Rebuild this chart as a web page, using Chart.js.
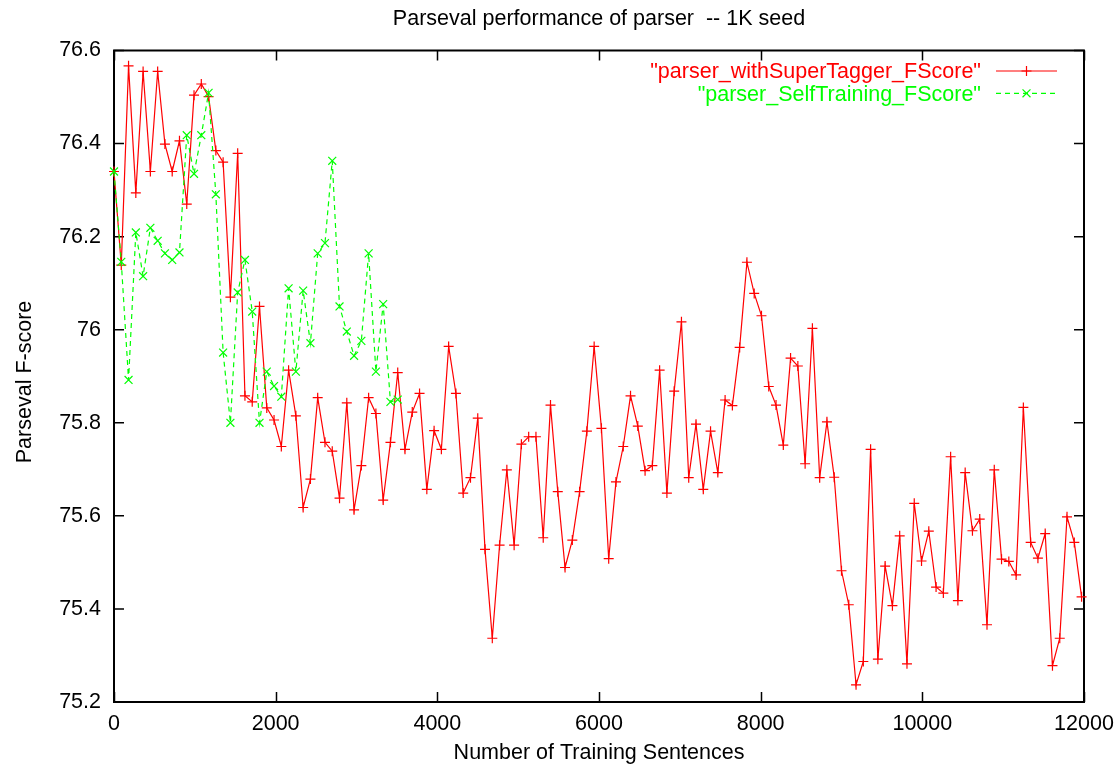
<!DOCTYPE html>
<html>
<head>
<meta charset="utf-8">
<title>Parseval performance of parser -- 1K seed</title>
<script src="https://cdn.jsdelivr.net/npm/chart.js@4.4.1/dist/chart.umd.min.js"></script>
<style>
  html, body { margin: 0; padding: 0; background: #fff; }
  canvas { display: block; }
</style>
</head>
<body>
<canvas id="chart" width="1117" height="769"></canvas>
<script>
// Number of training sentences at each evaluation step
const sentences = [
  0, 90, 180, 270, 360, 450, 540, 630, 720, 810,
  900, 990, 1080, 1170, 1260, 1350, 1440, 1530, 1620, 1710,
  1800, 1890, 1980, 2070, 2160, 2250, 2340, 2430, 2520, 2610,
  2700, 2790, 2880, 2970, 3060, 3150, 3240, 3330, 3420, 3510,
  3600, 3690, 3780, 3870, 3960, 4050, 4140, 4230, 4320, 4410,
  4500, 4590, 4680, 4770, 4860, 4950, 5040, 5130, 5220, 5310,
  5400, 5490, 5580, 5670, 5760, 5850, 5940, 6030, 6120, 6210,
  6300, 6390, 6480, 6570, 6660, 6750, 6840, 6930, 7020, 7110,
  7200, 7290, 7380, 7470, 7560, 7650, 7740, 7830, 7920, 8010,
  8100, 8190, 8280, 8370, 8460, 8550, 8640, 8730, 8820, 8910,
  9000, 9090, 9180, 9270, 9360, 9450, 9540, 9630, 9720, 9810,
  9900, 9990, 10080, 10170, 10260, 10350, 10440, 10530, 10620, 10710,
  10800, 10890, 10980, 11070, 11160, 11250, 11340, 11430, 11520, 11610,
  11700, 11790, 11880, 11970
];

// Parser trained with the SuperTagger
const superTaggerF = [
  76.340, 76.139, 76.567, 76.294, 76.555, 76.340, 76.555, 76.399, 76.340, 76.406,
  76.270, 76.504, 76.528, 76.501, 76.385, 76.360, 76.070, 76.379, 75.858, 75.845,
  76.050, 75.832, 75.806, 75.749, 75.913, 75.815, 75.618, 75.679, 75.854, 75.758,
  75.739, 75.638, 75.843, 75.613, 75.708, 75.854, 75.820, 75.634, 75.758, 75.908,
  75.743, 75.823, 75.863, 75.657, 75.783, 75.743, 75.964, 75.863, 75.649, 75.682,
  75.810, 75.528, 75.337, 75.537, 75.699, 75.537, 75.754, 75.770, 75.770, 75.553,
  75.838, 75.652, 75.489, 75.548, 75.652, 75.782, 75.964, 75.788, 75.508, 75.673,
  75.749, 75.858, 75.793, 75.697, 75.708, 75.913, 75.649, 75.868, 76.017, 75.682,
  75.797, 75.657, 75.782, 75.693, 75.849, 75.837, 75.962, 76.145, 76.078, 76.030,
  75.878, 75.838, 75.752, 75.939, 75.922, 75.712, 76.003, 75.682, 75.802, 75.683,
  75.482, 75.409, 75.237, 75.287, 75.743, 75.292, 75.492, 75.407, 75.557, 75.282,
  75.627, 75.503, 75.567, 75.447, 75.434, 75.727, 75.418, 75.693, 75.568, 75.593,
  75.366, 75.699, 75.507, 75.502, 75.473, 75.833, 75.543, 75.509, 75.562, 75.278,
  75.337, 75.598, 75.543, 75.426
];

// Self-training parser (first 40 steps only)
const selfTrainingF = [
  76.340, 76.146, 75.892, 76.209, 76.115, 76.219, 76.191, 76.164, 76.150, 76.166,
  76.418, 76.335, 76.418, 76.509, 76.291, 75.951, 75.800, 76.080, 76.150, 76.039,
  75.800, 75.910, 75.879, 75.856, 76.089, 75.910, 76.084, 75.971, 76.164, 76.186,
  76.363, 76.050, 75.996, 75.944, 75.976, 76.164, 75.910, 76.055, 75.845, 75.850
];

const seriesNames = ['"parser_withSuperTagger_FScore"', '"parser_SelfTraining_FScore"'];
const xTicks = [0, 2000, 4000, 6000, 8000, 10000, 12000];
const yTicks = [75.2, 75.4, 75.6, 75.8, 76.0, 76.2, 76.4, 76.6];

const FONT_FAMILY = '"Liberation Sans", Arial, Helvetica, sans-serif';
const FONT_SIZE = 21.5;
const RED = '#ff0000';
const GREEN = '#00ff00';

const toPoints = (values) => values.map((v, i) => ({ x: sentences[i], y: v }));

// Box border with inward ticks on all four sides
const framePlugin = {
  id: 'frame',
  beforeDatasetsDraw(chart) {
    const { ctx, chartArea: a, scales: { x, y } } = chart;
    const L = 10;
    ctx.save();
    ctx.strokeStyle = '#000';
    ctx.lineWidth = 1.5;
    ctx.beginPath();
    x.ticks.forEach(t => {
      const px = Math.round(x.getPixelForValue(t.value)) + 0.5;
      ctx.moveTo(px, a.bottom); ctx.lineTo(px, a.bottom - L);
      ctx.moveTo(px, a.top); ctx.lineTo(px, a.top + L);
    });
    y.ticks.forEach(t => {
      const py = y.getPixelForValue(t.value);
      ctx.moveTo(a.left, py); ctx.lineTo(a.left + L, py);
      ctx.moveTo(a.right, py); ctx.lineTo(a.right - L, py);
    });
    ctx.stroke();
    ctx.lineWidth = 2;
    ctx.strokeRect(a.left, a.top, a.right - a.left, a.bottom - a.top);
    ctx.restore();
  }
};

// Title, axis titles and the key in the upper right corner
const textPlugin = {
  id: 'texts',
  afterDraw(chart) {
    const { ctx, chartArea: a } = chart;
    ctx.save();
    ctx.font = FONT_SIZE + 'px ' + FONT_FAMILY;
    ctx.fillStyle = '#000';
    ctx.textBaseline = 'alphabetic';
    ctx.textAlign = 'center';
    const cx = (a.left + a.right) / 2;
    ctx.fillText('Parseval performance of parser  -- 1K seed', cx, 25);
    ctx.fillText('Number of Training Sentences', cx, 759);

    ctx.save();
    ctx.translate(31, 382);
    ctx.rotate(-Math.PI / 2);
    ctx.fillText('Parseval F-score', 0, 0);
    ctx.restore();

    // key
    const rows = [71, 93.3];
    const textRight = 981, sx0 = 996, sx1 = 1057, mx = (sx0 + sx1) / 2;
    chart.data.datasets.forEach((ds, i) => {
      const ry = rows[i];
      ctx.textAlign = 'right';
      ctx.fillStyle = ds.borderColor;
      ctx.fillText(ds.label, textRight, ry + 7.3);
      ctx.strokeStyle = ds.borderColor;
      ctx.lineWidth = ds.borderWidth;
      ctx.setLineDash(ds.borderDash || []);
      ctx.beginPath();
      ctx.moveTo(sx0, ry); ctx.lineTo(sx1, ry);
      ctx.stroke();
      ctx.setLineDash([]);
      ctx.lineWidth = ds.pointBorderWidth;
      ctx.beginPath();
      const r = ds.pointRadius;
      if (ds.pointStyle === 'cross') {
        ctx.moveTo(mx - r, ry); ctx.lineTo(mx + r, ry);
        ctx.moveTo(mx, ry - r); ctx.lineTo(mx, ry + r);
      } else {
        const d = r * Math.SQRT1_2;
        ctx.moveTo(mx - d, ry - d); ctx.lineTo(mx + d, ry + d);
        ctx.moveTo(mx - d, ry + d); ctx.lineTo(mx + d, ry - d);
      }
      ctx.stroke();
    });
    ctx.restore();
  }
};

const tickFont = { family: FONT_FAMILY, size: FONT_SIZE };

new Chart(document.getElementById('chart'), {
  type: 'line',
  data: {
    datasets: [
      {
        label: seriesNames[0],
        data: toPoints(superTaggerF),
        borderColor: RED,
        backgroundColor: RED,
        borderWidth: 1.2,
        pointStyle: 'cross',
        pointRadius: 5,
        pointBorderWidth: 1.2,
        pointBorderColor: RED,
        fill: false,
        tension: 0,
        clip: false,
        order: 1
      },
      {
        label: seriesNames[1],
        data: toPoints(selfTrainingF),
        borderColor: GREEN,
        backgroundColor: GREEN,
        borderWidth: 1.2,
        borderDash: [5, 4],
        pointStyle: 'crossRot',
        pointRadius: 5.6,
        pointBorderWidth: 1.2,
        pointBorderColor: GREEN,
        fill: false,
        tension: 0,
        clip: false,
        order: 0
      }
    ]
  },
  options: {
    responsive: false,
    animation: false,
    devicePixelRatio: 1,
    layout: { padding: { top: 50.5, right: 33, left: 0, bottom: 0 } },
    plugins: {
      legend: { display: false },
      title: { display: false },
      tooltip: { enabled: false }
    },
    scales: {
      x: {
        type: 'linear',
        min: 0,
        max: 12000,
        afterBuildTicks: s => { s.ticks = xTicks.map(v => ({ value: v })); },
        afterFit: s => { s.height = 67; s.paddingLeft = 0; s.paddingRight = 0; },
        grid: { display: false, drawTicks: false },
        border: { display: false },
        ticks: {
          padding: 9,
          color: '#000',
          font: tickFont,
          maxRotation: 0,
          autoSkip: false,
          callback: v => String(v)
        }
      },
      y: {
        type: 'linear',
        min: 75.2,
        max: 76.6,
        afterBuildTicks: s => { s.ticks = yTicks.map(v => ({ value: v })); },
        afterFit: s => { s.width = 114; s.paddingTop = 0; s.paddingBottom = 0; },
        grid: { display: false, drawTicks: false },
        border: { display: false },
        ticks: {
          padding: 13,
          color: '#000',
          font: tickFont,
          autoSkip: false,
          callback: v => String(parseFloat(Number(v).toFixed(1)))
        }
      }
    }
  },
  plugins: [framePlugin, textPlugin]
});
</script>
</body>
</html>
